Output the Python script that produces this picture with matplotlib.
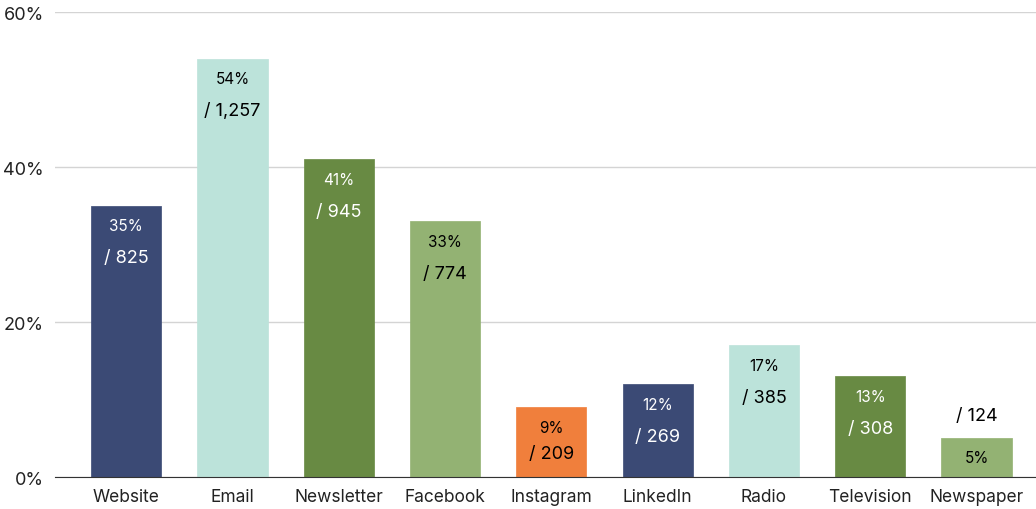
import matplotlib
matplotlib.use("Agg")
import matplotlib.pyplot as plt
from matplotlib.ticker import FuncFormatter

plt.rcParams['font.family'] = ['Inter', 'DejaVu Sans']

categories = ["Website", "Email", "Newsletter", "Facebook", "Instagram",
              "LinkedIn", "Radio", "Television", "Newspaper"]
percent = [35, 54, 41, 33, 9, 12, 17, 13, 5]
counts = ["825", "1,257", "945", "774", "209", "269", "385", "308", "124"]
yticks = [0, 20, 40, 60]

colors = ["#3b4a75", "#bce3da", "#688a43", "#93b273", "#f07f3c",
          "#3b4a75", "#bce3da", "#688a43", "#93b273"]
text_colors = ["white", "black", "white", "black", "black",
               "white", "black", "white", "black"]

fig = plt.figure(figsize=(10.36, 5.10), dpi=100)
ax = fig.add_axes([0.0531, 0.0627, 0.9469, 0.9118])

x = list(range(len(categories)))
ax.bar(x, percent, width=0.66, color=colors, edgecolor=colors,
       linewidth=0.5, joinstyle='round', zorder=3)

ax.set_xlim(-0.67, 8.56)
ax.set_ylim(0, 60)
ax.set_yticks(yticks)
ax.yaxis.set_major_formatter(FuncFormatter(lambda v, p: f"{int(v)}%"))
ax.set_xticks(x)
ax.set_xticklabels(categories)
ax.tick_params(axis='both', length=0, labelsize=12.5, colors='#222222')
ax.tick_params(axis='y', labelsize=13, pad=8)
ax.tick_params(axis='x', pad=8)

ax.grid(axis='y', color='#d4d4d4', linewidth=1, zorder=0)
for s in ['top', 'right', 'left']:
    ax.spines[s].set_visible(False)
ax.spines['bottom'].set_color('#333333')
ax.spines['bottom'].set_zorder(4)

px = 60 / (478 - 13)  # data units per pixel
for i, (p, c) in enumerate(zip(percent, counts)):
    tc = text_colors[i]
    if p < 7:
        ax.text(i, p + 23 * px, f"/ {c}", ha='center', va='center',
                fontsize=13, color='black', zorder=5)
        ax.text(i, p - 19 * px, f"{p}%", ha='center', va='center',
                fontsize=11, color=tc, zorder=5)
    else:
        gap = 26 if p < 10 else 32
        ax.text(i, p - 20 * px, f"{p}%", ha='center', va='center',
                fontsize=11, color=tc, zorder=5)
        ax.text(i, p - (20 + gap) * px, f"/ {c}", ha='center', va='center',
                fontsize=13, color=tc, zorder=5)

fig.savefig("out.png", dpi=100)
